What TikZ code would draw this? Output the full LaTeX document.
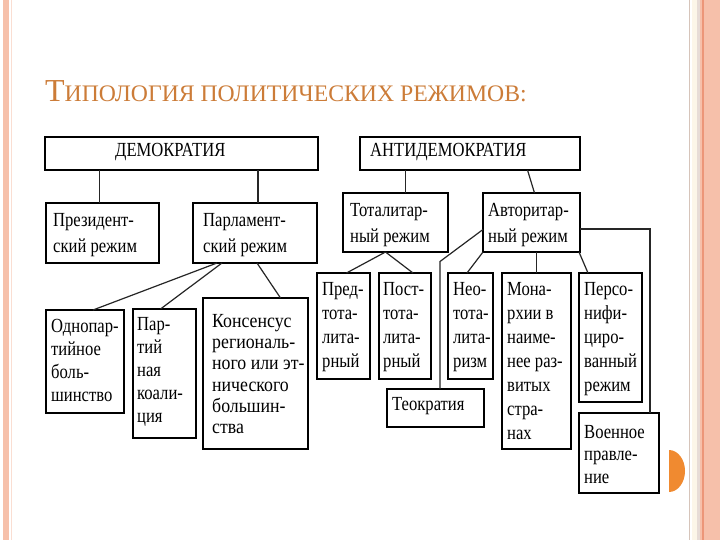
\documentclass[tikz,border=0pt]{standalone}
\usepackage{fontspec}
\setmainfont{Liberation Serif}
\newfontfamily\boxfont[FakeStretch=0.83]{Liberation Serif}
\newfontfamily\widefont[FakeStretch=0.89]{Liberation Serif}
\usetikzlibrary{shadows,calc}

\definecolor{salmon}{RGB}{246,192,170}
\definecolor{salmondk}{RGB}{236,150,120}
\definecolor{salmonlt}{RGB}{250,222,210}
\definecolor{greyln}{RGB}{214,196,186}
\definecolor{paleyel}{RGB}{252,246,232}
\definecolor{titlecol}{RGB}{204,124,56}
\definecolor{dotor}{RGB}{240,138,48}

\tikzset{
 boxst/.style={draw=black, line width=1.5pt, fill=white, rectangle, inner sep=0pt, outer sep=0pt,
   drop shadow={shadow xshift=1.3pt, shadow yshift=-1.3pt, fill=black, opacity=0.5}},
 txtst/.style={inner sep=0pt, align=left, anchor=north west, text=black},
 conn/.style={draw=black!85, line width=1.2pt},
}

\newcommand\bx[9]{%
  \node[boxst, minimum width={(#4-#2)*1pt}, minimum height={(#5-#3)*1pt}, anchor=north west] (#1) at (#2,#3) {};
  \node[txtst, font=\boxfont\fontsize{20}{#8}\selectfont] (#1t) at ([xshift=#6pt, yshift=-#7pt]#1.north west) {#9};
}

\begin{document}
\begin{tikzpicture}[x=1pt,y=-1pt]
\useasboundingbox (0,0) rectangle (720,540);
\fill[white] (0,0) rectangle (720,540);

% page decorations
\fill[salmon] (3,0) rectangle (9,540);
\draw[salmonlt, line width=1pt] (11.5,0) -- (11.5,540);
\draw[greyln, line width=1pt] (689.5,0) -- (689.5,540);
\fill[paleyel] (692,0) rectangle (697,540);
\fill[greyln!60] (697,0) rectangle (700,540);
\fill[salmon] (700,0) rectangle (720,540);
\draw[salmondk, line width=1.4pt] (703,0) -- (703,540);
\fill[dotor] (669,450) arc[start angle=-90, end angle=90, x radius=16, y radius=21] -- cycle;

% title
\node[anchor=base west, text=titlecol, inner sep=0pt, draw=none] (title) at (45,102)
  {\fontsize{32}{32}\selectfont Т\fontsize{23.7}{23.7}\selectfont ИПОЛОГИЯ ПОЛИТИЧЕСКИХ РЕЖИМОВ:};

% boxes
\bx{dem}{45}{137}{318}{170}{70}{6}{22}{ДЕМОКРАТИЯ}
\bx{anti}{360}{137}{580}{170}{10}{6}{22}{АНТИДЕМОКРАТИЯ}
\bx{pres}{46}{203}{159}{263}{7}{10}{26}{Президент-\\ский режим}
\bx{parl}{193}{203}{317}{263}{10}{10}{26}{Парламент-\\ский режим}
\bx{odn}{46}{310}{124}{413}{5}{9}{23}{Однопар-\\тийное\\боль-\\шинство}
\bx{coal}{133}{309}{196}{438}{4}{8}{23}{Пар-\\тий\\ная\\коали-\\ция}
\bx{cons}{203}{298}{308}{449}{9}{16}{21.3}{\widefont Консенсус\\\widefont региональ-\\\widefont ного или эт-\\\widefont нического\\\widefont большин-\\\widefont ства}
\bx{tot}{343}{193}{448}{252}{7}{10}{26.5}{Тоталитар-\\ный режим}
\bx{avt}{483}{193}{580}{252}{5}{10}{26.5}{Авторитар-\\ный режим}
\bx{pre}{317}{273}{370}{379}{5}{9}{24}{Пред-\\тота-\\лита-\\рный}
\bx{post}{379}{273}{431}{379}{4}{9}{24}{Пост-\\тота-\\лита-\\рный}
\bx{neo}{448}{273}{493}{379}{5}{9}{24}{Нео-\\тота-\\лита-\\ризм}
\bx{mon}{502}{273}{571}{449}{5}{9}{24}{Мона-\\рхии в\\наиме-\\нее раз-\\витых\\стра-\\нах}
\bx{pers}{579}{273}{642}{402}{5}{9}{24}{Персо-\\нифи-\\циро-\\ванный\\режим}
\bx{voen}{579}{413}{659}{493}{5}{12}{22.5}{Военное\\правле-\\ние}
\bx{teo}{387}{389}{484}{427}{5}{8}{22}{Теократия}

% connectors
\draw[conn] ([xshift=-3pt]pres.north) -- ([xshift=-3pt]pres.north |- dem.south);
\draw[conn] ([xshift=3pt]parl.north) -- ([xshift=3pt]parl.north |- dem.south);
\draw[conn] ([xshift=10pt]tot.north) -- ([xshift=10pt]tot.north |- anti.south);
\draw[conn] ([xshift=-4pt]avt.north |- anti.south) -- ([xshift=3pt]avt.north);
\draw[conn] ([xshift=-38pt]parl.south) -- ([xshift=8pt]odn.north);
\draw[conn] ([xshift=-33pt]parl.south) -- ([xshift=-4pt]coal.north);
\draw[conn] ([xshift=2pt]parl.south) -- ([xshift=25pt]cons.north);
\draw[conn] ([xshift=-10pt]tot.south) -- ([xshift=3pt]pre.north);
\draw[conn] ([xshift=-10pt]tot.south) -- ([xshift=8pt]post.north);
\draw[conn] ([yshift=-7pt]avt.west) -- ++(-43,32) -- ([xshift=4.5pt]teo.north);
\draw[conn] (avt.south west) -- ([xshift=-3.5pt]neo.north);
\draw[conn] (mon.north) -- (mon.north |- avt.south);
\draw[conn] ([xshift=-1pt]avt.south east) -- ([xshift=9pt]pers.north west);
\draw[conn] ([yshift=-6.5pt]avt.east) -| ([xshift=-9pt]voen.north east);
\end{tikzpicture}
\end{document}
